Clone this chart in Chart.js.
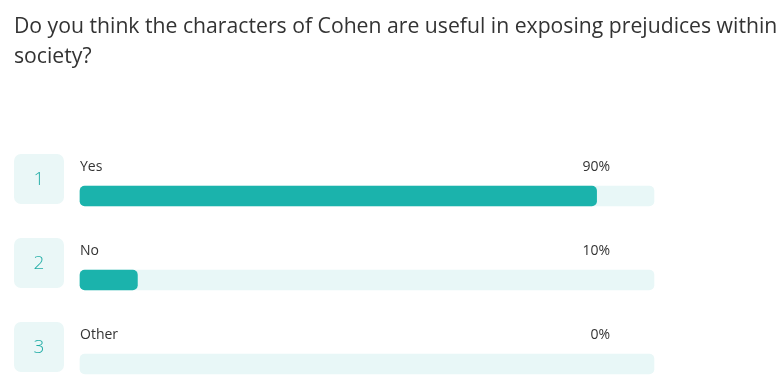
<!DOCTYPE html>
<html><head><meta charset="utf-8">
<script src="https://cdn.jsdelivr.net/npm/chart.js@4.4.0/dist/chart.umd.min.js"></script>
<style>html,body{margin:0;padding:0;background:#fff;} #wrap{width:784px;height:388px;position:relative;}</style>
</head><body><div id="wrap"><canvas id="c"></canvas></div>
<script>
const titleLines = ["Do you think the characters of Cohen are useful in exposing prejudices within", "society?"];
const rowNumbers = ["1", "2", "3"];
const categories = ["Yes", "No", "Other"];
const percents = [90, 10, 0];
const trackValues = [100, 100, 100];
const percentLabels = ["90%", "10%", "0%"];

const TEAL = '#1BB3AC';
const TRACK = '#E8F7F7';
const TEXT = '#333333';

const rowDecor = {
  id: 'rowDecor',
  afterDatasetsDraw(chart) {
    const ctx = chart.ctx;
    const y = chart.scales.y;
    const area = chart.chartArea;
    ctx.save();
    categories.forEach((cat, i) => {
      const yc = y.getPixelForValue(i);
      ctx.fillStyle = '#EAF7F7';
      ctx.beginPath();
      ctx.roundRect(14, yc - 42, 50, 50, 7);
      ctx.fill();
      ctx.fillStyle = '#22ADA6';
      ctx.font = '300 19px "Open Sans"';
      ctx.textAlign = 'center';
      ctx.textBaseline = 'middle';
      ctx.fillText(rowNumbers[i], 39, yc - 16);
      ctx.fillStyle = TEXT;
      ctx.font = '14px "Open Sans"';
      ctx.textAlign = 'left';
      ctx.fillText(cat, area.left, yc - 29);
      ctx.textAlign = 'right';
      ctx.fillText(percentLabels[i], area.right - 44, yc - 29);
    });
    ctx.restore();
  }
};

function build() {
  new Chart(document.getElementById('c'), {
    type: 'bar',
    data: {
      labels: categories,
      datasets: [
        { data: percents, yAxisID: 'y', backgroundColor: (c) => (c.raw > 0 ? TEAL : 'rgba(0,0,0,0)'), borderRadius: 5, borderSkipped: false, barThickness: 20, grouped: false, clip: false },
        { data: trackValues, yAxisID: 'y', backgroundColor: TRACK, borderRadius: 5, borderSkipped: false, barThickness: 20, grouped: false, clip: false }
      ]
    },
    options: {
      indexAxis: 'y',
      responsive: true,
      maintainAspectRatio: false,
      animation: false,
      events: [],
      layout: { padding: { top: 0, left: 14, right: 0, bottom: 24 } },
      scales: {
        x: { display: false, min: 0, max: 100 },
        y: {
          display: true, offset: false,
          grid: { display: false }, border: { display: false },
          ticks: { display: false },
          afterFit(scale) { scale.width = 66; }
        },
        yRight: {
          type: 'category', axis: 'y', position: 'right', display: true,
          grid: { display: false }, border: { display: false },
          ticks: { display: false },
          afterFit(scale) { scale.width = 130; }
        }
      },
      plugins: {
        legend: { display: false },
        tooltip: { enabled: false },
        title: {
          display: true, align: 'start', text: titleLines, color: TEXT,
          font: { family: 'Open Sans', size: 21.2, weight: 'normal', lineHeight: 30 / 21.2 },
          padding: { top: 12, bottom: 124 }
        }
      }
    },
    plugins: [rowDecor]
  });
}

Promise.all([
  document.fonts.load('21.2px "Open Sans"'),
  document.fonts.load('14px "Open Sans"'),
  document.fonts.load('300 19px "Open Sans"')
]).then(build, build);
</script>
</body></html>
